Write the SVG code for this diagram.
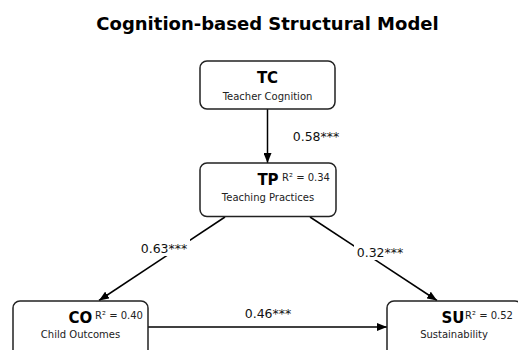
<svg xmlns="http://www.w3.org/2000/svg" width="518" height="350" viewBox="0 0 518 350">
<defs>
<style>
.box{fill:#fff;stroke:#222;stroke-width:1.5}
.name{font-family:"DejaVu Sans",sans-serif;font-weight:bold;font-size:15px;text-anchor:middle;fill:#000}
.sub{font-family:"DejaVu Sans",sans-serif;font-size:10px;text-anchor:middle;fill:#222}
.r2{font-family:"DejaVu Sans",sans-serif;font-size:10px;fill:#222}
.lbl{font-family:"DejaVu Sans",sans-serif;font-size:12.5px;text-anchor:middle;fill:#111}
.edge{stroke:#000;stroke-width:1.5;fill:none;marker-end:url(#ah)}
.title{font-family:"DejaVu Sans",sans-serif;font-weight:bold;font-size:18px;text-anchor:middle;fill:#000}
</style>
<marker id="ah" markerUnits="userSpaceOnUse" markerWidth="10" markerHeight="8" refX="10" refY="4" orient="auto">
<path d="M0,0 L10,4 L0,8 z" fill="#000"/>
</marker>
</defs>
<rect width="518" height="350" fill="#fff"/>
<text class="title" x="267.5" y="30">Cognition-based Structural Model</text>
<g id="connectors">
<line class="edge" x1="267.5" y1="109" x2="267.5" y2="163"/>
<line class="edge" x1="225" y1="217" x2="99" y2="300.5"/>
<line class="edge" x1="310" y1="217" x2="437" y2="300.5"/>
<line class="edge" x1="148" y1="327" x2="387" y2="327"/>
<text class="lbl" x="316" y="141">0.58***</text>
<rect x="138" y="239" width="52" height="17" fill="#fff"/>
<text class="lbl" x="164" y="253">0.63***</text>
<rect x="354" y="243" width="52" height="17" fill="#fff"/>
<text class="lbl" x="380" y="257">0.32***</text>
<text class="lbl" x="268" y="318">0.46***</text>
</g>
<g id="TC">
<rect class="box" x="200" y="61" width="135" height="48" rx="7"/>
<text class="name" x="267.5" y="83">TC</text>
<text class="sub" x="267.5" y="100">Teacher Cognition</text>
</g>
<g id="TP">
<rect class="box" x="200" y="163" width="136" height="53.5" rx="7"/>
<text class="name" x="268" y="185">TP</text>
<text class="r2" x="282" y="180.5">R² = 0.34</text>
<text class="sub" x="268" y="200.5">Teaching Practices</text>
</g>
<g id="CO">
<rect class="box" x="13" y="301" width="135" height="60" rx="7"/>
<text class="name" x="80.5" y="322.5">CO</text>
<text class="r2" x="95" y="318.5">R² = 0.40</text>
<text class="sub" x="80.5" y="337.5">Child Outcomes</text>
</g>
<g id="SU">
<rect class="box" x="387" y="301" width="135" height="60" rx="7"/>
<text class="name" x="453" y="322.5">SU</text>
<text class="r2" x="465" y="318.5">R² = 0.52</text>
<text class="sub" x="454" y="337.5">Sustainability</text>
</g>
</svg>
